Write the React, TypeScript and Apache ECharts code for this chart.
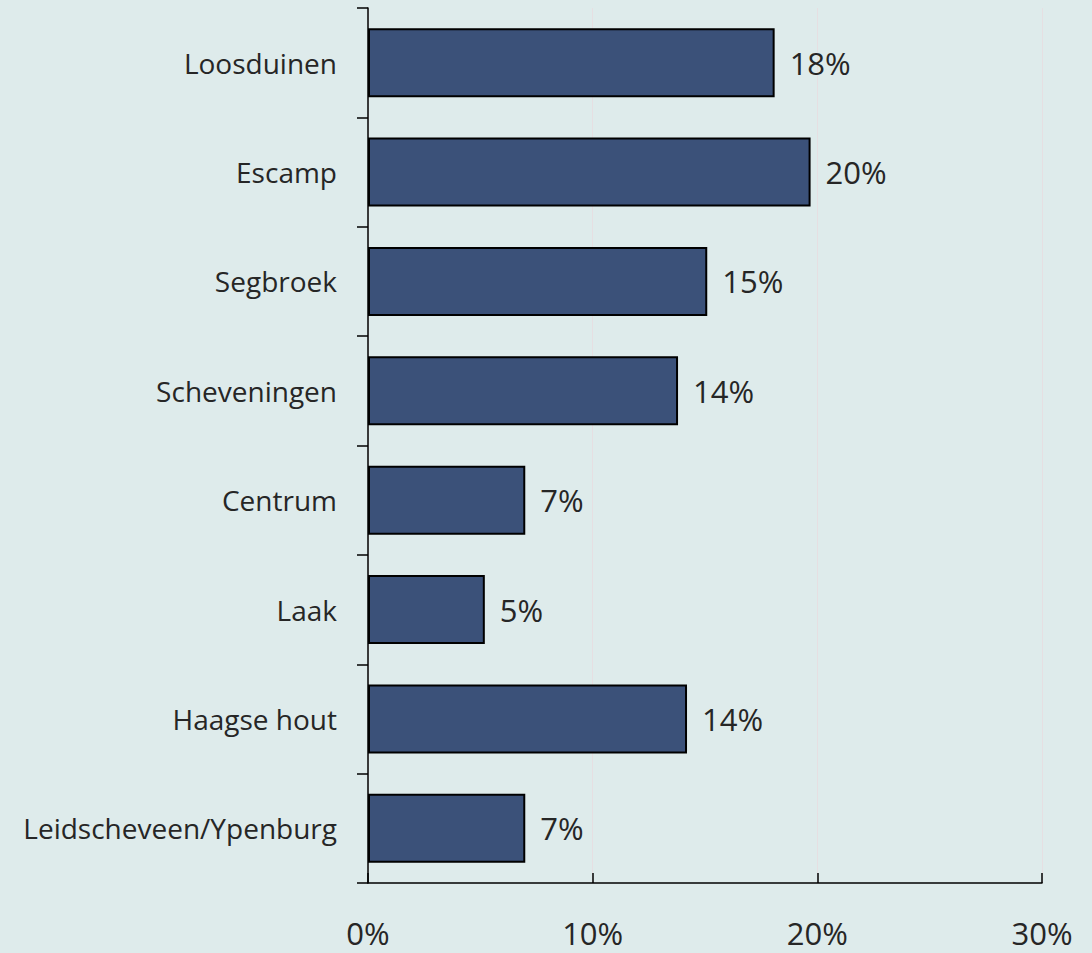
import React, { useEffect, useRef } from "react";
import * as echarts from "echarts";

const categories = [
  "Loosduinen",
  "Escamp",
  "Segbroek",
  "Scheveningen",
  "Centrum",
  "Laak",
  "Haagse hout",
  "Leidscheveen/Ypenburg",
];
const values = [18.1, 19.7, 15.1, 13.8, 7.0, 5.2, 14.2, 7.0];
const xTicks = [0, 10, 20, 30];

export default function App() {
  const ref = useRef<HTMLDivElement>(null);
  useEffect(() => {
    document.body.style.margin = "0";
    const chart = echarts.init(ref.current!, null, { renderer: "svg" });
    chart.setOption({
      animation: false,
      backgroundColor: "#deebeb",
      grid: { left: 368, right: 50, top: 8, bottom: 70, containLabel: false },
      xAxis: {
        type: "value",
        min: xTicks[0],
        max: xTicks[xTicks.length - 1],
        interval: 10,
        axisLine: { show: true, lineStyle: { color: "#000", width: 1.5 } },
        axisTick: { show: true, inside: true, length: 10, lineStyle: { color: "#000", width: 1.5 } },
        splitLine: { show: true, lineStyle: { color: "#e6dfe2", width: 1 } },
        axisLabel: {
          formatter: (v: number) => v + "%",
          fontSize: 31,
          color: "#262626",
          margin: 34,
          fontFamily: "Open Sans",
        },
      },
      yAxis: {
        type: "category",
        data: categories,
        inverse: true,
        axisLine: { show: true, lineStyle: { color: "#000", width: 1.5 } },
        axisTick: { show: true, length: 11, lineStyle: { color: "#000", width: 1.5 } },
        axisLabel: {
          fontSize: 28,
          color: "#262626",
          margin: 31,
          fontFamily: "Open Sans",
        },
      },
      series: [
        {
          type: "bar",
          data: values,
          barWidth: "63%",
          itemStyle: { color: "#3b5179", borderColor: "#000", borderWidth: 2 },
          label: {
            show: true,
            position: "right",
            distance: 15,
            formatter: (p: any) => Math.round(p.value) + "%",
            fontSize: 31,
            color: "#262626",
            fontFamily: "Open Sans",
          },
        },
      ],
    });
    return () => chart.dispose();
  }, []);
  return (
    <div
      ref={ref}
      style={{ width: 1092, height: 953, position: "absolute", left: 0, top: 0 }}
    />
  );
}
